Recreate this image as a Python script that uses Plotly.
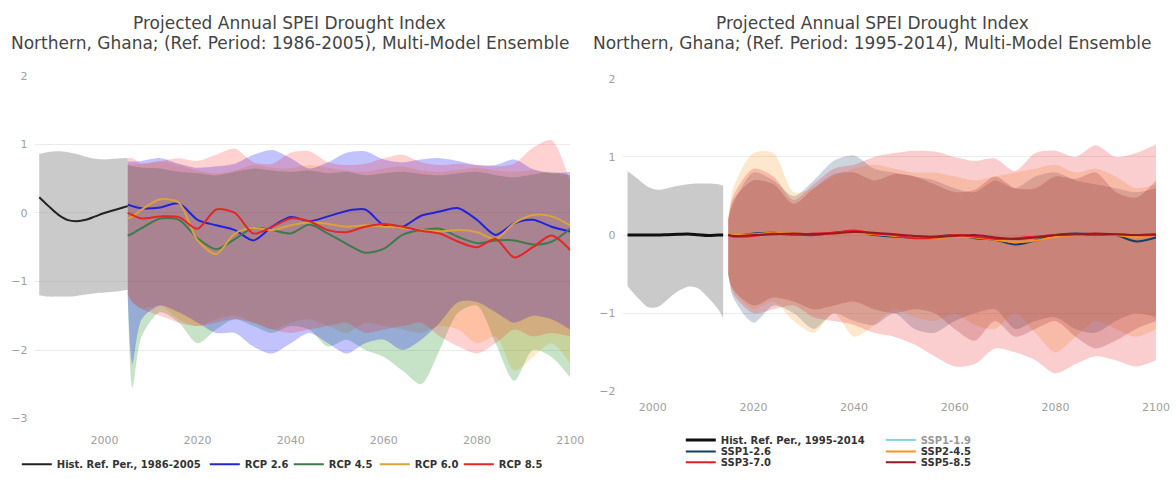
import plotly.graph_objects as go

# ---------------- Left panel: CMIP5 / RCP ----------------
hist_years_l = [1986, 1988, 1990, 1992, 1994, 1996, 1998, 2000, 2002, 2004, 2005]
hist_mean_l = [0.23, 0.10, -0.02, -0.10, -0.12, -0.10, -0.05, 0.00, 0.04, 0.08, 0.10]
hist_up_l = [0.86, 0.89, 0.90, 0.89, 0.86, 0.82, 0.79, 0.78, 0.79, 0.80, 0.80]
hist_lo_l = [-1.20, -1.22, -1.22, -1.22, -1.21, -1.19, -1.17, -1.16, -1.15, -1.13, -1.12]

rcp_years = [2005, 2006, 2008, 2012, 2016, 2020, 2024, 2028, 2032, 2036, 2040, 2044, 2048,
             2052, 2056, 2060, 2064, 2068, 2072, 2076, 2080, 2084, 2088, 2092, 2096, 2100]

rcp26_mean = [0.12, 0.10, 0.07, 0.08, 0.14, -0.10, -0.18, -0.25, -0.40, -0.20, -0.06, -0.12, -0.05,
              0.03, 0.05, -0.18, -0.20, -0.04, 0.02, 0.07, -0.10, -0.32, -0.15, -0.10, -0.20, -0.27]
rcp45_mean = [-0.33, -0.30, -0.22, -0.08, -0.10, -0.37, -0.53, -0.38, -0.22, -0.25, -0.30, -0.17, -0.30,
              -0.45, -0.58, -0.52, -0.32, -0.25, -0.23, -0.35, -0.44, -0.40, -0.40, -0.46, -0.42, -0.23]
rcp60_mean = [-0.08, -0.05, 0.05, 0.20, 0.15, -0.40, -0.60, -0.30, -0.22, -0.25, -0.18, -0.14, -0.16,
              -0.20, -0.18, -0.20, -0.22, -0.25, -0.27, -0.25, -0.28, -0.38, -0.15, -0.03, -0.05, -0.18]
rcp85_mean = [0.00, -0.03, -0.08, -0.05, -0.06, -0.23, 0.05, 0.00, -0.30, -0.20, -0.08, -0.12, -0.25,
              -0.28, -0.20, -0.16, -0.20, -0.26, -0.30, -0.42, -0.50, -0.38, -0.65, -0.50, -0.33, -0.54]

rcp26_up = [0.75, 0.75, 0.76, 0.80, 0.72, 0.66, 0.68, 0.72, 0.85, 0.92, 0.80, 0.65, 0.74,
            0.88, 0.90, 0.78, 0.74, 0.78, 0.80, 0.76, 0.70, 0.70, 0.78, 0.64, 0.58, 0.60]
rcp45_up = [0.70, 0.68, 0.66, 0.65, 0.60, 0.58, 0.55, 0.60, 0.65, 0.62, 0.60, 0.62, 0.58,
            0.60, 0.55, 0.58, 0.60, 0.57, 0.55, 0.58, 0.60, 0.55, 0.52, 0.56, 0.60, 0.55]
rcp60_up = [0.72, 0.70, 0.72, 0.75, 0.70, 0.62, 0.58, 0.62, 0.70, 0.66, 0.65, 0.70, 0.66,
            0.62, 0.60, 0.65, 0.68, 0.62, 0.60, 0.63, 0.66, 0.62, 0.60, 0.62, 0.58, 0.55]
rcp85_up = [0.80, 0.80, 0.72, 0.76, 0.80, 0.76, 0.85, 0.94, 0.74, 0.72, 0.88, 0.90, 0.74,
            0.70, 0.72, 0.80, 0.85, 0.74, 0.70, 0.72, 0.70, 0.68, 0.72, 0.95, 1.06, 0.45]

rcp26_lo = [-1.20, -2.20, -1.55, -1.35, -1.45, -1.60, -1.75, -1.75, -1.95, -2.05, -1.90, -1.75, -1.90,
            -2.05, -1.90, -1.85, -2.00, -1.85, -1.60, -1.30, -1.30, -1.45, -1.60, -1.50, -1.55, -1.70]
rcp45_lo = [-1.20, -2.55, -1.80, -1.45, -1.60, -1.90, -1.70, -1.55, -1.65, -1.75, -1.65, -1.70, -1.95,
            -1.85, -2.00, -2.10, -2.30, -2.50, -2.00, -1.45, -1.35, -1.90, -2.45, -2.00, -2.10, -2.40]
rcp60_lo = [-1.15, -1.30, -1.40, -1.35, -1.55, -1.65, -1.55, -1.50, -1.60, -1.70, -1.60, -1.55, -1.65,
            -1.75, -1.60, -1.65, -1.70, -1.75, -1.65, -1.70, -1.90, -1.80, -2.30, -2.10, -1.90, -2.20]
rcp85_lo = [-1.20, -1.30, -1.40, -1.50, -1.60, -1.65, -1.60, -1.55, -1.60, -1.70, -1.75, -1.70, -1.65,
            -1.60, -1.75, -1.70, -1.65, -1.60, -1.80, -1.95, -2.05, -1.90, -1.70, -1.80, -1.75, -1.80]

# ---------------- Right panel: CMIP6 / SSP ----------------
hist_years_r = [1995, 1997, 1999, 2001, 2003, 2005, 2007, 2009, 2011, 2013, 2014]
hist_mean_r = [0.00, 0.00, 0.00, 0.00, 0.005, 0.01, 0.015, 0.005, -0.005, 0.00, 0.00]
hist_up_r = [0.82, 0.72, 0.62, 0.58, 0.60, 0.63, 0.65, 0.66, 0.66, 0.65, 0.63]
hist_lo_r = [-0.65, -0.80, -0.92, -0.92, -0.82, -0.72, -0.66, -0.68, -0.80, -0.95, -1.06]

ssp_years = [2015, 2016, 2020, 2024, 2028, 2032, 2036, 2040, 2044, 2048, 2052, 2056,
             2060, 2064, 2068, 2072, 2076, 2080, 2084, 2088, 2092, 2096, 2100]

ssp119_years = [2015]
ssp119_mean = [0.00]
ssp126_mean = [0.00, -0.01, 0.02, 0.03, 0.01, 0.00, 0.03, 0.05, 0.00, -0.02, -0.03, -0.02,
               0.00, -0.04, -0.06, -0.12, -0.07, 0.00, 0.02, 0.01, 0.00, -0.08, -0.03]
ssp245_mean = [0.00, 0.00, 0.01, 0.03, 0.02, 0.01, 0.02, 0.03, 0.01, -0.01, -0.03, -0.04,
               -0.02, -0.03, -0.06, -0.09, -0.07, -0.02, 0.00, 0.01, 0.00, -0.03, 0.00]
ssp370_mean = [0.00, -0.02, -0.01, 0.02, 0.00, 0.02, 0.03, 0.06, 0.02, 0.00, -0.04, -0.03,
               0.00, -0.02, -0.05, -0.04, -0.02, 0.00, 0.01, 0.00, 0.01, 0.00, 0.00]
ssp585_mean = [0.00, -0.01, 0.00, 0.01, 0.02, 0.01, 0.02, 0.04, 0.03, 0.01, -0.01, -0.02,
               -0.01, 0.00, -0.03, -0.05, -0.03, 0.00, 0.01, 0.02, 0.01, 0.00, 0.01]

ssp126_up = [0.20, 0.40, 0.80, 0.70, 0.50, 0.70, 0.95, 1.02, 0.85, 0.80, 0.75, 0.70,
             0.60, 0.55, 0.70, 0.60, 0.75, 0.80, 0.70, 0.65, 0.60, 0.55, 0.60]
ssp245_up = [0.20, 0.60, 1.05, 1.05, 0.55, 0.60, 0.75, 0.85, 0.90, 0.85, 0.80, 0.80,
             0.75, 0.70, 0.75, 0.80, 0.85, 0.90, 0.80, 0.85, 0.75, 0.60, 0.65]
ssp370_up = [0.20, 0.50, 0.85, 0.75, 0.45, 0.65, 0.85, 0.90, 1.00, 1.05, 1.08, 1.07,
             1.00, 0.95, 0.98, 0.82, 1.05, 1.08, 1.00, 1.15, 1.00, 1.05, 1.16]
ssp585_up = [0.20, 0.45, 0.70, 0.65, 0.40, 0.60, 0.78, 0.80, 0.70, 0.78, 0.75, 0.65,
             0.55, 0.58, 0.75, 0.60, 0.60, 0.75, 0.72, 0.80, 0.55, 0.48, 0.70]

ssp126_lo = [-0.50, -0.80, -1.12, -0.90, -1.00, -1.20, -1.00, -1.10, -1.15, -1.00, -1.20, -1.25,
             -1.10, -1.00, -0.95, -1.20, -1.10, -1.05, -1.20, -1.25, -1.10, -1.00, -1.05]
ssp245_lo = [-0.50, -0.70, -0.95, -0.85, -1.10, -1.25, -1.00, -1.30, -1.15, -0.95, -1.05, -1.10,
             -1.00, -1.15, -1.20, -1.00, -1.25, -1.50, -1.30, -1.10, -1.20, -1.30, -1.20]
ssp370_lo = [-0.50, -0.75, -1.00, -0.95, -0.90, -1.05, -1.10, -1.15, -1.25, -1.30, -1.40, -1.55,
             -1.68, -1.65, -1.45, -1.50, -1.60, -1.77, -1.65, -1.55, -1.60, -1.68, -1.60]
ssp585_lo = [-0.50, -0.70, -0.90, -0.80, -0.85, -0.95, -0.90, -0.85, -0.95, -1.00, -0.95, -1.00,
             -1.20, -1.35, -1.10, -1.30, -1.20, -1.10, -1.30, -1.45, -1.35, -1.20, -1.10]

FONT = "DejaVu Sans"
W, H = 1176, 479

fig = go.Figure()


def band(years, up, lo, fillcolor, xa, ya):
    # lower edge first, then the upper edge filled down to it
    common = dict(x=years, mode="lines", hoverinfo="skip", showlegend=False,
                  xaxis=xa, yaxis=ya)
    fig.add_trace(go.Scatter(y=lo, line=dict(width=0, shape="spline", smoothing=0.8), **common))
    fig.add_trace(go.Scatter(y=up, fill="tonexty", fillcolor=fillcolor,
                             line=dict(width=0, shape="spline", smoothing=0.8), **common))


def mean_line(years, vals, color, name, xa, ya, legend, width=2, lw=None, visible=True):
    fig.add_trace(go.Scatter(
        x=years, y=vals, mode="lines", name=name, visible=visible,
        line=dict(color=color, width=width, shape="spline", smoothing=0.8),
        xaxis=xa, yaxis=ya, legend=legend, legendwidth=lw))


# left panel bands
band(hist_years_l, hist_up_l, hist_lo_l, "rgba(150,150,150,0.5)", "x", "y")
band(rcp_years, rcp60_up, rcp60_lo, "rgba(255,165,0,0.22)", "x", "y")
band(rcp_years, rcp45_up, rcp45_lo, "rgba(0,128,0,0.22)", "x", "y")
band(rcp_years, rcp26_up, rcp26_lo, "rgba(0,0,255,0.24)", "x", "y")
band(rcp_years, rcp85_up, rcp85_lo, "rgba(255,0,0,0.18)", "x", "y")

# right panel bands
band(hist_years_r, hist_up_r, hist_lo_r, "rgba(150,150,150,0.5)", "x2", "y2")
band(ssp_years, ssp126_up, ssp126_lo, "rgba(23,60,102,0.22)", "x2", "y2")
band(ssp_years, ssp245_up, ssp245_lo, "rgba(247,148,32,0.22)", "x2", "y2")
band(ssp_years, ssp370_up, ssp370_lo, "rgba(231,29,37,0.22)", "x2", "y2")
band(ssp_years, ssp585_up, ssp585_lo, "rgba(149,27,30,0.22)", "x2", "y2")

# left panel mean lines
mean_line(hist_years_l, hist_mean_l, "#222222", "Hist. Ref. Per., 1986-2005", "x", "y", "legend", lw=143)
mean_line(rcp_years, rcp26_mean, "#2323d8", "RCP 2.6", "x", "y", "legend", lw=39)
mean_line(rcp_years, rcp45_mean, "#3f7a4c", "RCP 4.5", "x", "y", "legend", lw=41)
mean_line(rcp_years, rcp60_mean, "#dba23a", "RCP 6.0", "x", "y", "legend", lw=39)
mean_line(rcp_years, rcp85_mean, "#e32626", "RCP 8.5", "x", "y", "legend", lw=40)

# right panel mean lines; legend in two columns over three rows
mean_line(hist_years_r, hist_mean_r, "#111111", "Hist. Ref. Per., 1995-2014", "x2", "y2", "legend2",
          width=3, lw=155)
mean_line(ssp119_years, ssp119_mean, "#00add0", "SSP1-1.9", "x2", "y2", "legend2",
          visible="legendonly")
mean_line(ssp_years, ssp126_mean, "#173c66", "SSP1-2.6", "x2", "y2", "legend3", lw=155)
mean_line(ssp_years, ssp245_mean, "#f79420", "SSP2-4.5", "x2", "y2", "legend3")
mean_line(ssp_years, ssp370_mean, "#e71d25", "SSP3-7.0", "x2", "y2", "legend4", lw=155)
mean_line(ssp_years, ssp585_mean, "#951b1e", "SSP5-8.5", "x2", "y2", "legend4")

tickfont = dict(family=FONT, size=11, color="#a0a0a0")
xcommon = dict(showgrid=False, zeroline=False, showline=False, ticks="",
               tickvals=[2000, 2020, 2040, 2060, 2080, 2100], tickfont=tickfont)
ycommon = dict(showgrid=True, gridcolor="#ececec", gridwidth=1, zeroline=False,
               showline=False, ticks="", dtick=1, tickfont=tickfont, ticklabelstandoff=6)

legend_common = dict(orientation="h", xanchor="left", yanchor="middle",
                     bgcolor="rgba(0,0,0,0)", itemwidth=30, traceorder="normal",
                     font=dict(family=FONT, size=10, color="#333333", weight="bold"))

fig.update_layout(
    width=W, height=H,
    margin=dict(l=0, r=0, t=0, b=0),
    paper_bgcolor="white", plot_bgcolor="white",
    font=dict(family=FONT),
    xaxis=dict(domain=[35 / W, 577 / W], range=[1985, 2100], anchor="y",
               ticklabelstandoff=13, **xcommon),
    yaxis=dict(domain=[1 - 425 / H, 1 - 72 / H], range=[-3, 2], anchor="x", **ycommon),
    xaxis2=dict(domain=[630 / W, 1170 / W], range=[1994, 2100], anchor="y2",
                ticklabelstandoff=8, **xcommon),
    yaxis2=dict(domain=[1 - 397 / H, 1 - 75 / H], range=[-2, 2], anchor="x2", **ycommon),
    legend=dict(x=17 / W, y=1 - 472 / H, **legend_common),
    legend2=dict(x=689 / W, y=1 - 447 / H, **legend_common),
    legend3=dict(x=689 / W, y=1 - 459 / H, **legend_common),
    legend4=dict(x=689 / W, y=1 - 470 / H, **legend_common),
    showlegend=True,
)

title_font = dict(family=FONT, size=17, color="#444444")
titles = [
    (293, "Projected Annual SPEI Drought Index",
     "Northern, Ghana; (Ref. Period: 1986-2005), Multi-Model Ensemble"),
    (883, "Projected Annual SPEI Drought Index",
     "Northern, Ghana; (Ref. Period: 1995-2014), Multi-Model Ensemble"),
]
for cx, line1, line2 in titles:
    for text, cy in ((line1, 18), (line2, 38)):
        fig.add_annotation(text=text, x=cx / W, y=1 - cy / H, xref="paper", yref="paper",
                           xanchor="center", yanchor="middle", showarrow=False, font=title_font)

fig.write_html("out.html")
